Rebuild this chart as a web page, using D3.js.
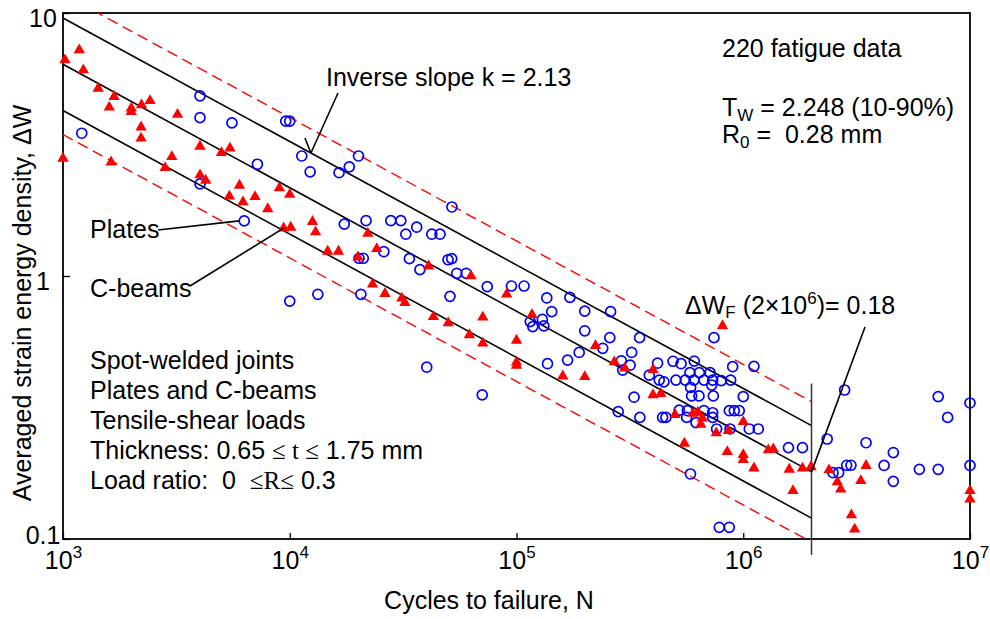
<!DOCTYPE html>
<html>
<head>
<meta charset="utf-8">
<script src="https://cdn.jsdelivr.net/npm/d3@7"></script>
<style>
body { margin: 0; background: #fff; }
text { font-family: "Liberation Sans", Arial, sans-serif; fill: #000; }
</style>
</head>
<body>
<div id="chart"></div>
<script>
// fatigue data: [cycles N, strain energy dW]
var plates = [
 [1.21e3,3.49],[4.02e3,4.84],[4.02e3,4.00],[5.56e3,3.82],[4.02e3,2.24],[6.3e3,1.62],[7.2e3,2.66],
 [9.6e3,3.88],[1.0e4,3.88],[1.13e4,2.86],[1.23e4,2.49],[1.65e4,2.47],[1.83e4,2.60],[2.01e4,2.86],
 [1.0e4,0.803],[1.33e4,0.852],[1.74e4,1.574],[2.17e4,1.623],[2.79e4,1.623],[3.09e4,1.623],[3.25e4,1.442],
 [3.63e4,1.533],[4.23e4,1.442],[4.6e4,1.442],[5.19e4,1.83],[2.6e4,1.237],[2.02e4,1.168],[2.11e4,1.168],
 [3.37e4,1.164],[3.75e4,1.058],[4.99e4,1.153],[5.18e4,1.164],[5.45e4,1.024],[6.0e4,1.024],[7.43e4,0.911],
 [9.5e4,0.916],[1.08e5,0.916],[5.09e4,0.837],[2.06e4,0.852],[1.36e5,0.825],[1.72e5,0.829],[1.43e5,0.732],
 [2.0e5,0.735],[1.15e5,0.671],[1.30e5,0.684],[1.18e5,0.642],[1.32e5,0.646],[2.0e5,0.619],[2.4e5,0.531],
 [1.89e5,0.512],[1.68e5,0.479],[1.37e5,0.464],[4.02e4,0.450],[7.06e4,0.353],[2.6e5,0.732],[2.58e5,0.583],
 [3.49e5,0.583],[3.22e5,0.512],[2.9e5,0.476],[3.17e5,0.458],[2.94e5,0.439],[4.19e5,0.466],[4.9e5,0.474],
 [5.32e5,0.464],[6.08e5,0.475],[5.82e5,0.429],[6.4e5,0.429],[7.14e5,0.429],[8.98e5,0.452],[1.115e6,0.4535],
 [7.43e5,0.583],[3.85e5,0.420],[4.26e5,0.402],[4.47e5,0.396],[5.05e5,0.402],[5.55e5,0.402],[6.06e5,0.402],
 [6.71e5,0.402],[7.33e5,0.402],[8.0e5,0.400],[8.8e5,0.402],[5.86e5,0.377],[7.26e5,0.385],[5.92e5,0.350],
 [6.38e5,0.350],[7.38e5,0.350],[1.0e6,0.348],[3.3e5,0.346],[2.81e5,0.305],[3.5e5,0.290],[4.41e5,0.290],
 [4.56e5,0.290],[5.22e5,0.309],[5.67e5,0.3075],[5.63e5,0.290],[6.19e5,0.277],[6.71e5,0.3075],[7.33e5,0.302],
 [7.33e5,0.290],[8.68e5,0.3075],[9.13e5,0.3075],[9.6e5,0.3075],[7.63e5,0.262],[8.74e5,0.262],[1.063e6,0.262],
 [1.165e6,0.262],[1.583e6,0.2225],[1.825e6,0.2225],[5.85e5,0.1767],[7.84e5,0.1108],[8.68e5,0.1108],
 [2.8e6,0.3686],[2.345e6,0.240],[3.48e6,0.2323],[4.59e6,0.2132],[7.24e6,0.348],[7.97e6,0.290],[1.0e7,0.329],
 [1.0e7,0.1904],[4.18e6,0.1904],[4.59e6,0.1657],[5.98e6,0.184],[7.24e6,0.184],[2.858e6,0.1907],
 [2.986e6,0.1907],[2.487e6,0.1787],[2.635e6,0.1787]
];

var cbeams = [
 [1.18e3,7.23],[1.02e3,6.63],[1.23e3,6.07],[1.43e3,5.17],[1.68e3,4.81],[1.60e3,4.38],[2.0e3,4.34],
 [2.0e3,4.21],[2.22e3,4.47],[2.42e3,4.64],[3.2e3,4.11],[2.21e3,3.68],[2.21e3,3.34],[1.0e3,2.80],
 [1.63e3,2.71],[3.02e3,2.84],[2.82e3,2.58],[4.02e3,3.11],[5.0e3,2.94],[5.45e3,3.06],[4.02e3,2.42],
 [4.26e3,2.31],[6.0e3,2.21],[5.42e3,2.01],[6.22e3,1.91],[7.03e3,2.00],[8.0e3,1.80],[9.0e3,2.16],
 [1.0e4,2.04],[9.4e3,1.52],[1.01e4,1.53],[1.26e4,1.61],[1.30e4,1.47],[1.47e4,1.24],[1.64e4,1.24],
 [2.21e4,1.45],[2.42e4,1.27],[2.0e4,1.18],[4.1e4,1.09],[6.3e4,1.00],[2.32e4,0.93],[2.63e4,0.857],
 [3.12e4,0.823],[3.22e4,0.792],[9.05e4,0.852],[1.17e5,0.713],[4.3e4,0.700],[5.0e4,0.663],[7.1e4,0.697],
 [6.2e4,0.597],[7.1e4,0.555],[1.0e5,0.569],[1.0e5,0.470],[1.0e5,0.457],[1.6e5,0.416],[2.0e5,0.414],
 [2.23e5,0.543],[8.1e5,0.646],[2.7e5,0.471],[3.0e5,0.446],[4.0e5,0.440],[4.0e5,0.353],[4.33e5,0.357],
 [5.0e5,0.297],[6.0e5,0.300],[6.3e5,0.303],[6.6e5,0.288],[6.5e5,0.2725],[7.6e5,0.253],[8.6e5,0.258],
 [1.0e6,0.279],[5.5e5,0.231],[8.5e5,0.2147],[1.0e6,0.209],[1.0e6,0.200],[1.115e6,0.186],[1.29e6,0.218],
 [1.357e6,0.220],[1.596e6,0.184],[1.825e6,0.1858],[1.99e6,0.188],[1.657e6,0.1525],[2.39e6,0.183],
 [2.6e6,0.1647],[2.69e6,0.1546],[3.3e6,0.1665],[3.48e6,0.190],[3.0e6,0.1234],[3.1e6,0.1089],
 [1.0e7,0.1525],[1.0e7,0.1416]
];

// curve parameters
var kSlope = 2.13, wF = 0.18, nF = 2e6, tW = 2.248;
var dashBand = 1.85;          // outer scatter band, estimated
var nStart = 1e3;
var cutLine = [0.087, 0.39];  // vertical line at 2e6

// axes
var xMajor = [1e3, 1e4, 1e5, 1e6, 1e7];
var xExp = ["3", "4", "5", "6", "7"];
var yMajor = [0.1, 1, 10];
var yLabels = ["0.1", "1", "10"];

var width = 990, height = 619;
var x = d3.scaleLog().domain([1e3, 1e7]).range([63, 970]);
var y = d3.scaleLog().domain([0.1, 10]).range([539, 13]);

var svg = d3.select("#chart").append("svg")
    .attr("width", width)
    .attr("height", height);

svg.append("clipPath").attr("id", "plot")
    .append("rect").attr("x", 63).attr("y", 13).attr("width", 907).attr("height", 526);

//minor tick values
var minors = function(lo, hi) {
    var out = [];
    for (var d = lo; d < hi; d *= 10)
        for (var m = 2; m < 10; m++) out.push(d * m);
    return out;
};

// x axis
var gx = svg.append("g").attr("transform", "translate(0,539)");
gx.call(d3.axisBottom(x).tickValues(minors(1e3, 1e7)).tickSize(-4).tickFormat(""));
gx.call(d3.axisBottom(x).tickValues(xMajor).tickSize(-6).tickFormat(""));
gx.selectAll("path.domain").remove();
gx.selectAll(".tick line").attr("stroke", "#000").attr("stroke-width", 1.3);
gx.selectAll(".tick text").filter(function(d) { return xMajor.indexOf(d) >= 0; })
    .attr("y", 30).attr("dy", null)
    .style("font-size", "25px")
    .each(function(d) {
        var t = d3.select(this);
        t.append("tspan").text("10");
        t.append("tspan").attr("dy", -11).style("font-size", "17px").text(xExp[xMajor.indexOf(d)]);
    });

// y axis
var gy = svg.append("g").attr("transform", "translate(63,0)");
gy.call(d3.axisLeft(y).tickValues(minors(0.1, 10)).tickSize(-5).tickFormat(""));
gy.call(d3.axisLeft(y).tickValues(yMajor).tickSize(-7)
    .tickFormat(function(d) { return yLabels[yMajor.indexOf(d)]; }));
gy.selectAll("path.domain").remove();
gy.selectAll(".tick line").attr("stroke", "#000").attr("stroke-width", 1.3);
gy.selectAll(".tick text")
    .attr("x", -20).attr("text-anchor", "middle")
    .attr("dy", function(d) { return d == 0.1 ? "0.16em" : "0.55em"; })
    .style("font-size", "25px").style("font-family", "Liberation Sans, Arial, sans-serif");

// frame
svg.append("rect")
    .attr("x", 63).attr("y", 13).attr("width", 907).attr("height", 526)
    .attr("fill", "none").attr("stroke", "#000").attr("stroke-width", 1.8);

// mean curve and bands
var curve = function(f) {
    return function(n) { return f * wF * Math.pow(n / nF, -1 / kSlope); };
};
var line = d3.line().x(function(d) { return x(d[0]); }).y(function(d) { return y(d[1]); });
var bands = [
    {f: 1, dash: null, color: "#000"},
    {f: Math.sqrt(tW), dash: null, color: "#000"},
    {f: 1 / Math.sqrt(tW), dash: null, color: "#000"},
    {f: dashBand, dash: "11,6", color: "#ff0000"},
    {f: 1 / dashBand, dash: "11,6", color: "#ff0000"}
];
var gl = svg.append("g").attr("clip-path", "url(#plot)");
bands.forEach(function(b) {
    var c = curve(b.f);
    gl.append("path")
        .attr("d", line([[nStart, c(nStart)], [nF, c(nF)]]))
        .attr("fill", "none")
        .attr("stroke", b.color)
        .attr("stroke-width", b.dash ? 1.4 : 1.6)
        .attr("stroke-dasharray", b.dash);
});

svg.append("path")
    .attr("d", line([[nF, cutLine[0]], [nF, cutLine[1]]]))
    .attr("stroke", "#333").attr("stroke-width", 1.5);

// markers
svg.append("g").selectAll("circle")
    .data(plates).enter().append("circle")
    .attr("cx", function(d) { return x(d[0]); })
    .attr("cy", function(d) { return y(d[1]); })
    .attr("r", 5)
    .attr("fill", "none")
    .attr("stroke", "#0000ff")
    .attr("stroke-width", 1.7);

var tri = d3.symbol().type(d3.symbolTriangle).size(56);
svg.append("g").selectAll("path")
    .data(cbeams).enter().append("path")
    .attr("d", tri)
    .attr("transform", function(d) { return "translate(" + x(d[0]) + "," + y(d[1]) + ")"; })
    .attr("fill", "#ff0000");

// annotations
var ann = svg.append("g").style("font-size", "25px");
var pointer = function(x1, y1, x2, y2) {
    ann.append("line").attr("x1", x1).attr("y1", y1).attr("x2", x2).attr("y2", y2)
        .attr("stroke", "#000").attr("stroke-width", 1.6);
};

ann.append("text").attr("x", 326).attr("y", 86).text("Inverse slope k = 2.13");
var tipN = 1.24e4, tipX = x(tipN), tipY = y(curve(Math.sqrt(tW))(tipN));
pointer(338, 93, tipX, tipY);
pointer(tipX - 6, tipY - 15, tipX, tipY);

ann.append("text").attr("x", 722).attr("y", 57).text("220 fatigue data");
var tw = ann.append("text").attr("x", 722).attr("y", 116);
tw.append("tspan").text("T");
tw.append("tspan").attr("dy", 5).style("font-size", "17px").text("W");
tw.append("tspan").attr("dy", -5).text(" = 2.248 (10-90%)");
var r0 = ann.append("text").attr("x", 722).attr("y", 143);
r0.append("tspan").text("R");
r0.append("tspan").attr("dy", 5).style("font-size", "17px").text("0");
r0.append("tspan").attr("dy", -5).text(" =\u00a0 0.28 mm");

ann.append("text").attr("x", 90).attr("y", 238).text("Plates");
pointer(158, 230, x(plates[5][0]) - 5, y(plates[5][1]));
ann.append("text").attr("x", 90).attr("y", 297).text("C-beams");
pointer(190, 286, x(cbeams[29][0]), y(cbeams[29][1]));

var df = ann.append("text").attr("x", 685).attr("y", 314);
df.append("tspan").text("\u0394W");
df.append("tspan").attr("dy", 4).style("font-size", "17px").text("F");
df.append("tspan").attr("dy", -4).text(" (2\u00d710");
df.append("tspan").attr("dy", -10).style("font-size", "17px").text("6");
df.append("tspan").attr("dy", 10).text(")= 0.18");
pointer(865, 327, x(nF), y(wF));

var block = [
    [{t: "Spot-welded joints"}],
    [{t: "Plates and C-beams"}],
    [{t: "Tensile-shear loads"}],
    [{t: "Thickness: 0.65 "}, {t: "\u2264 t \u2264", serif: true}, {t: " 1.75 mm"}],
    [{t: "Load ratio:\u00a0 0 \u00a0"}, {t: "\u2264R\u2264", serif: true}, {t: " 0.3"}]
];
block.forEach(function(row, i) {
    var t = ann.append("text").attr("x", 90).attr("y", 369 + i * 30);
    row.forEach(function(p) {
        var s = t.append("tspan").text(p.t);
        if (p.serif) s.style("font-family", "Liberation Serif, Times New Roman, serif");
    });
});

// axis titles
svg.append("text")
    .attr("x", 489).attr("y", 609)
    .attr("text-anchor", "middle")
    .style("font-size", "25px")
    .text("Cycles to failure, N");
svg.append("text")
    .attr("transform", "translate(31,303)rotate(-90)")
    .attr("text-anchor", "middle")
    .style("font-size", "25px")
    .text("Averaged strain energy density, \u0394W");
</script>
</body>
</html>
